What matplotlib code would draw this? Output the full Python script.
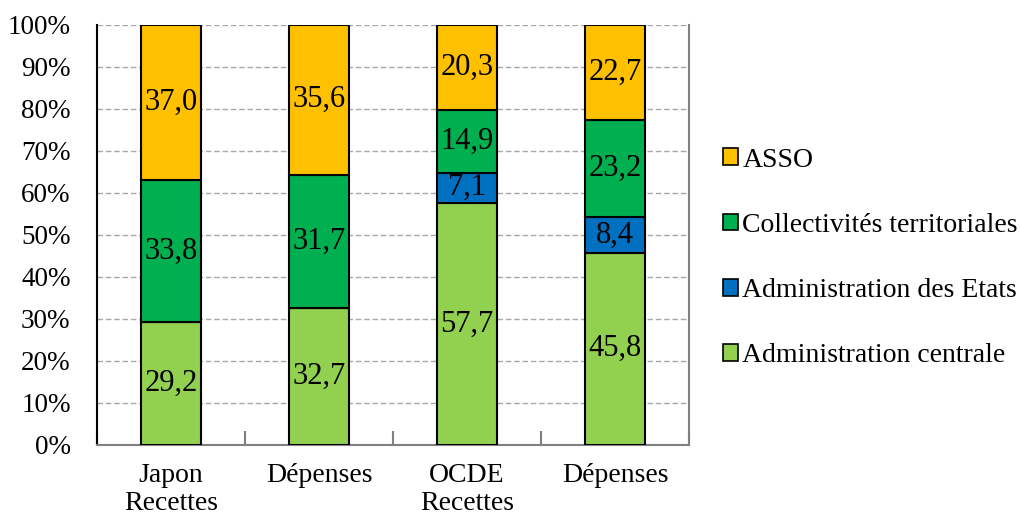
import numpy as np
import matplotlib.pyplot as plt
from matplotlib.patches import Patch
from matplotlib.ticker import FuncFormatter, FixedLocator

plt.rcParams['font.family'] = ['Liberation Serif', 'DejaVu Serif']

# Data ------------------------------------------------------------------------
categories = ["Japon\nRecettes", "Dépenses", "OCDE\nRecettes", "Dépenses"]
series_names = ["Administration centrale", "Administration des Etats",
                "Collectivités territoriales", "ASSO"]
centrale = [29.2, 32.7, 57.7, 45.8]
etats = [0.0, 0.0, 7.1, 8.4]
collectivites = [33.8, 31.7, 14.9, 23.2]
asso = [37.0, 35.6, 20.3, 22.7]
colors = ["#92D050", "#0070C0", "#00B050", "#FFC000"]

# Figure ----------------------------------------------------------------------
fig = plt.figure(figsize=(10.21, 5.19), dpi=100)
ax = fig.add_axes([97 / 1021, 74 / 519, 592 / 1021, 420 / 519])

x = np.arange(len(categories))
bottom = np.zeros(len(categories))
for vals, name, col in zip([centrale, etats, collectivites, asso], series_names, colors):
    vals = np.array(vals) / 100
    ax.bar(x, vals, 0.4, bottom=bottom, color=col, edgecolor="black",
           linewidth=1.5, zorder=3, label=name)
    for xi, v, b in zip(x, vals, bottom):
        if v > 0:
            ax.text(xi, b + v / 2, f"{v * 100:.1f}".replace(".", ","),
                    ha="center", va="center", fontsize=22, zorder=4)
    bottom += vals

ax.set_xlim(-0.5, 3.5)
ax.set_ylim(0, 1.0)
ax.set_yticks(np.arange(0, 1.01, 0.1))
ax.yaxis.set_major_formatter(FuncFormatter(lambda v, p: f"{v * 100:.0f}%"))
ax.tick_params(axis="y", length=0, pad=19, labelsize=19.5)
ax.yaxis.grid(True, color="#A8A8A8", linestyle=(0, (4, 2)), linewidth=1, zorder=0)

ax.set_xticks(x)
ax.set_xticklabels(categories, linespacing=1.15)
ax.tick_params(axis="x", which="major", length=0, pad=13, labelsize=20)
ax.xaxis.set_minor_locator(FixedLocator([-0.5, 0.5, 1.5, 2.5, 3.5]))
ax.tick_params(axis="x", which="minor", direction="in", length=10,
               color="#808080", width=1.5)

ax.spines["top"].set_visible(False)
ax.spines["left"].set_color("black")
ax.spines["left"].set_linewidth(1.5)
ax.spines["right"].set_color("#808080")
ax.spines["right"].set_linewidth(1.5)
ax.spines["bottom"].set_color("#808080")
ax.spines["bottom"].set_linewidth(1.5)

handles = [Patch(facecolor=c, edgecolor="black", linewidth=1.2) for c in colors][::-1]
fig.legend(handles, series_names[::-1], loc="center left",
           bbox_to_anchor=(698 / 1021, 1 - 258 / 519), frameon=False,
           fontsize=20, handlelength=0.55, handleheight=0.55,
           handletextpad=0.15, labelspacing=1.45)

fig.savefig("out.png", dpi=100, facecolor="white")
